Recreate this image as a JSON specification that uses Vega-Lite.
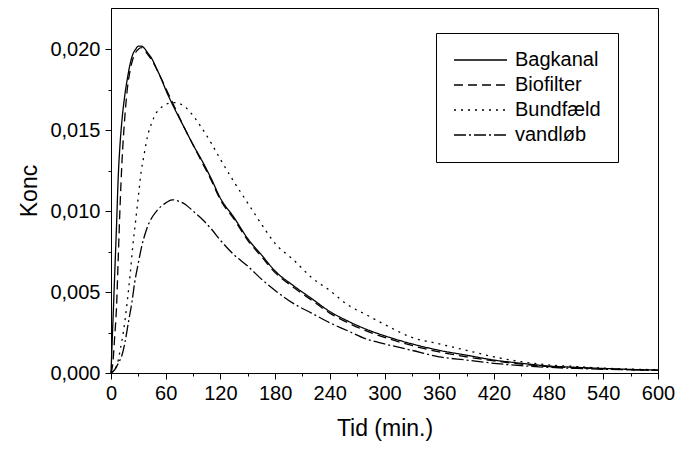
{
  "$schema": "https://vega.github.io/schema/vega-lite/v6.json",
  "autosize": {"type": "none"},
  "padding": {"left": 111, "top": 8, "right": 18, "bottom": 76},
  "width": 547,
  "height": 365,
  "background": "white",
  "config": {
    "view": {"stroke": "black", "strokeWidth": 1},
    "font": "Liberation Sans",
    "axis": {
      "domainColor": "black", "tickColor": "black", "labelColor": "black", "titleColor": "black",
      "labelFont": "Liberation Sans", "titleFont": "Liberation Sans",
      "labelFontSize": 20, "titleFontSize": 23, "titleFontWeight": "normal",
      "grid": false, "tickSize": 6, "domainWidth": 1, "tickWidth": 1,
      "labelFlush": false, "labelOverlap": false
    }
  },
  "data": {"values": [
    {"t":0,"v":0,"s":"Bagkanal"},{"t":2,"v":0.0030,"s":"Bagkanal"},{"t":4,"v":0.0060,"s":"Bagkanal"},{"t":6,"v":0.0090,"s":"Bagkanal"},{"t":8,"v":0.0122,"s":"Bagkanal"},{"t":10,"v":0.0142,"s":"Bagkanal"},{"t":12,"v":0.0156,"s":"Bagkanal"},{"t":15,"v":0.0171,"s":"Bagkanal"},{"t":18,"v":0.0182,"s":"Bagkanal"},{"t":21,"v":0.0191,"s":"Bagkanal"},{"t":24,"v":0.0197,"s":"Bagkanal"},{"t":27,"v":0.0200,"s":"Bagkanal"},{"t":30,"v":0.0202,"s":"Bagkanal"},{"t":33,"v":0.0202,"s":"Bagkanal"},{"t":36,"v":0.0201,"s":"Bagkanal"},{"t":40,"v":0.0198,"s":"Bagkanal"},{"t":45,"v":0.0194,"s":"Bagkanal"},{"t":50,"v":0.0188,"s":"Bagkanal"},{"t":55,"v":0.0182,"s":"Bagkanal"},{"t":60,"v":0.0175,"s":"Bagkanal"},{"t":70,"v":0.0163,"s":"Bagkanal"},{"t":80,"v":0.0152,"s":"Bagkanal"},{"t":90,"v":0.0141,"s":"Bagkanal"},{"t":100,"v":0.0131,"s":"Bagkanal"},{"t":110,"v":0.0120,"s":"Bagkanal"},{"t":120,"v":0.0108,"s":"Bagkanal"},{"t":135,"v":0.0096,"s":"Bagkanal"},{"t":150,"v":0.0083,"s":"Bagkanal"},{"t":165,"v":0.0073,"s":"Bagkanal"},{"t":180,"v":0.0063,"s":"Bagkanal"},{"t":200,"v":0.0054,"s":"Bagkanal"},{"t":220,"v":0.0046,"s":"Bagkanal"},{"t":240,"v":0.0038,"s":"Bagkanal"},{"t":260,"v":0.0032,"s":"Bagkanal"},{"t":280,"v":0.0027,"s":"Bagkanal"},{"t":300,"v":0.0023,"s":"Bagkanal"},{"t":330,"v":0.0018,"s":"Bagkanal"},{"t":360,"v":0.0014,"s":"Bagkanal"},{"t":390,"v":0.0011,"s":"Bagkanal"},{"t":420,"v":0.0008,"s":"Bagkanal"},{"t":450,"v":0.0006,"s":"Bagkanal"},{"t":480,"v":0.00043,"s":"Bagkanal"},{"t":510,"v":0.00035,"s":"Bagkanal"},{"t":540,"v":0.00028,"s":"Bagkanal"},{"t":570,"v":0.00022,"s":"Bagkanal"},{"t":600,"v":0.00018,"s":"Bagkanal"},
    {"t":0,"v":0,"s":"Biofilter"},{"t":2,"v":0.0006,"s":"Biofilter"},{"t":4,"v":0.0022,"s":"Biofilter"},{"t":6,"v":0.0040,"s":"Biofilter"},{"t":8,"v":0.0072,"s":"Biofilter"},{"t":10,"v":0.0104,"s":"Biofilter"},{"t":12,"v":0.0130,"s":"Biofilter"},{"t":15,"v":0.0157,"s":"Biofilter"},{"t":18,"v":0.0176,"s":"Biofilter"},{"t":21,"v":0.0187,"s":"Biofilter"},{"t":24,"v":0.0194,"s":"Biofilter"},{"t":27,"v":0.0198,"s":"Biofilter"},{"t":30,"v":0.0200,"s":"Biofilter"},{"t":33,"v":0.0201,"s":"Biofilter"},{"t":36,"v":0.0200,"s":"Biofilter"},{"t":40,"v":0.0197,"s":"Biofilter"},{"t":45,"v":0.0193,"s":"Biofilter"},{"t":50,"v":0.0188,"s":"Biofilter"},{"t":55,"v":0.0182,"s":"Biofilter"},{"t":60,"v":0.0176,"s":"Biofilter"},{"t":70,"v":0.0164,"s":"Biofilter"},{"t":80,"v":0.0152,"s":"Biofilter"},{"t":90,"v":0.0141,"s":"Biofilter"},{"t":100,"v":0.0130,"s":"Biofilter"},{"t":110,"v":0.0119,"s":"Biofilter"},{"t":120,"v":0.0107,"s":"Biofilter"},{"t":135,"v":0.0095,"s":"Biofilter"},{"t":150,"v":0.0082,"s":"Biofilter"},{"t":165,"v":0.0072,"s":"Biofilter"},{"t":180,"v":0.0062,"s":"Biofilter"},{"t":200,"v":0.0053,"s":"Biofilter"},{"t":220,"v":0.0045,"s":"Biofilter"},{"t":240,"v":0.0037,"s":"Biofilter"},{"t":260,"v":0.0031,"s":"Biofilter"},{"t":280,"v":0.0026,"s":"Biofilter"},{"t":300,"v":0.0022,"s":"Biofilter"},{"t":330,"v":0.0017,"s":"Biofilter"},{"t":360,"v":0.0013,"s":"Biofilter"},{"t":390,"v":0.0010,"s":"Biofilter"},{"t":420,"v":0.00075,"s":"Biofilter"},{"t":450,"v":0.00055,"s":"Biofilter"},{"t":480,"v":0.0004,"s":"Biofilter"},{"t":510,"v":0.00032,"s":"Biofilter"},{"t":540,"v":0.00026,"s":"Biofilter"},{"t":570,"v":0.0002,"s":"Biofilter"},{"t":600,"v":0.00016,"s":"Biofilter"},
    {"t":0,"v":0,"s":"Bundfæld"},{"t":5,"v":0.0003,"s":"Bundfæld"},{"t":8,"v":0.0008,"s":"Bundfæld"},{"t":10,"v":0.0014,"s":"Bundfæld"},{"t":12,"v":0.0020,"s":"Bundfæld"},{"t":15,"v":0.0031,"s":"Bundfæld"},{"t":18,"v":0.0045,"s":"Bundfæld"},{"t":21,"v":0.0061,"s":"Bundfæld"},{"t":24,"v":0.0079,"s":"Bundfæld"},{"t":27,"v":0.0094,"s":"Bundfæld"},{"t":30,"v":0.0109,"s":"Bundfæld"},{"t":33,"v":0.0124,"s":"Bundfæld"},{"t":36,"v":0.0134,"s":"Bundfæld"},{"t":40,"v":0.0146,"s":"Bundfæld"},{"t":45,"v":0.0155,"s":"Bundfæld"},{"t":50,"v":0.0161,"s":"Bundfæld"},{"t":55,"v":0.0164,"s":"Bundfæld"},{"t":60,"v":0.0166,"s":"Bundfæld"},{"t":70,"v":0.0167,"s":"Bundfæld"},{"t":80,"v":0.0165,"s":"Bundfæld"},{"t":90,"v":0.0159,"s":"Bundfæld"},{"t":100,"v":0.0151,"s":"Bundfæld"},{"t":110,"v":0.0142,"s":"Bundfæld"},{"t":120,"v":0.0132,"s":"Bundfæld"},{"t":135,"v":0.0118,"s":"Bundfæld"},{"t":150,"v":0.0105,"s":"Bundfæld"},{"t":165,"v":0.0092,"s":"Bundfæld"},{"t":180,"v":0.0080,"s":"Bundfæld"},{"t":200,"v":0.0070,"s":"Bundfæld"},{"t":220,"v":0.0059,"s":"Bundfæld"},{"t":240,"v":0.0051,"s":"Bundfæld"},{"t":260,"v":0.0042,"s":"Bundfæld"},{"t":280,"v":0.0036,"s":"Bundfæld"},{"t":300,"v":0.0030,"s":"Bundfæld"},{"t":330,"v":0.0022,"s":"Bundfæld"},{"t":360,"v":0.0018,"s":"Bundfæld"},{"t":390,"v":0.0014,"s":"Bundfæld"},{"t":420,"v":0.0010,"s":"Bundfæld"},{"t":450,"v":0.0007,"s":"Bundfæld"},{"t":480,"v":0.0005,"s":"Bundfæld"},{"t":510,"v":0.0004,"s":"Bundfæld"},{"t":540,"v":0.0003,"s":"Bundfæld"},{"t":570,"v":0.00024,"s":"Bundfæld"},{"t":600,"v":0.0002,"s":"Bundfæld"},
    {"t":0,"v":0,"s":"vandløb"},{"t":4,"v":0.0002,"s":"vandløb"},{"t":8,"v":0.0006,"s":"vandløb"},{"t":12,"v":0.0011,"s":"vandløb"},{"t":15,"v":0.0018,"s":"vandløb"},{"t":19,"v":0.0031,"s":"vandløb"},{"t":23,"v":0.0044,"s":"vandløb"},{"t":26,"v":0.0056,"s":"vandløb"},{"t":30,"v":0.0068,"s":"vandløb"},{"t":34,"v":0.0079,"s":"vandløb"},{"t":38,"v":0.0087,"s":"vandløb"},{"t":42,"v":0.0093,"s":"vandløb"},{"t":46,"v":0.0097,"s":"vandløb"},{"t":50,"v":0.0100,"s":"vandløb"},{"t":55,"v":0.0103,"s":"vandløb"},{"t":60,"v":0.0105,"s":"vandløb"},{"t":67,"v":0.0107,"s":"vandløb"},{"t":75,"v":0.0106,"s":"vandløb"},{"t":82,"v":0.0104,"s":"vandløb"},{"t":90,"v":0.0100,"s":"vandløb"},{"t":100,"v":0.0095,"s":"vandløb"},{"t":110,"v":0.0089,"s":"vandløb"},{"t":120,"v":0.0082,"s":"vandløb"},{"t":135,"v":0.0073,"s":"vandløb"},{"t":150,"v":0.0066,"s":"vandløb"},{"t":165,"v":0.0058,"s":"vandløb"},{"t":180,"v":0.0051,"s":"vandløb"},{"t":200,"v":0.0043,"s":"vandløb"},{"t":220,"v":0.0037,"s":"vandløb"},{"t":240,"v":0.0031,"s":"vandløb"},{"t":260,"v":0.0026,"s":"vandløb"},{"t":280,"v":0.0021,"s":"vandløb"},{"t":300,"v":0.0018,"s":"vandløb"},{"t":330,"v":0.0014,"s":"vandløb"},{"t":360,"v":0.0010,"s":"vandløb"},{"t":390,"v":0.0008,"s":"vandløb"},{"t":420,"v":0.0006,"s":"vandløb"},{"t":450,"v":0.00045,"s":"vandløb"},{"t":480,"v":0.00035,"s":"vandløb"},{"t":510,"v":0.00028,"s":"vandløb"},{"t":540,"v":0.00023,"s":"vandløb"},{"t":570,"v":0.0002,"s":"vandløb"},{"t":600,"v":0.00017,"s":"vandløb"}
  ]},
  "layer": [
    {
      "mark": {"type": "line", "color": "black", "strokeWidth": 1.3, "interpolate": "monotone"},
      "encoding": {
        "x": {"field": "t", "type": "quantitative",
              "scale": {"domain": [0, 600], "nice": false},
              "axis": {"values": [0,60,120,180,240,300,360,420,480,540,600], "title": "Tid (min.)", "labelPadding": 4, "titlePadding": 14}},
        "y": {"field": "v", "type": "quantitative",
              "scale": {"domain": [0, 0.02255], "nice": false},
              "axis": {"values": [0,0.005,0.01,0.015,0.02], "title": "Konc", "labelPadding": 5, "titlePadding": 8,
                       "labelExpr": "replace(format(datum.value, '.3f'), '.', ',')"}},
        "detail": {"field": "s"},
        "strokeDash": {"field": "s", "type": "nominal",
          "scale": {"domain": ["Bagkanal", "Biofilter", "Bundfæld", "vandløb"],
                    "range": [[1, 0], [9, 5], [2, 5], [12, 3, 2, 3]]},
          "legend": {"title": null, "orient": "none", "legendX": 325, "legendY": 25,
                     "strokeColor": "black", "padding": 17, "fillColor": "white",
                     "symbolType": "stroke", "symbolSize": 2809, "symbolStrokeColor": "black", "symbolStrokeWidth": 1.3,
                     "clipHeight": 20, "rowPadding": 5, "labelOffset": 7,
                     "labelFont": "Liberation Sans", "labelFontSize": 20, "labelColor": "black"}}
      }
    },
    {
      "mark": {"type": "point", "opacity": 0},
      "encoding": {
        "x": {"field": "t", "type": "quantitative",
              "axis": {"orient": "bottom", "values": [30,90,150,210,270,330,390,450,510,570], "labels": false, "title": null, "domain": false, "tickSize": 3}},
        "y": {"field": "v", "type": "quantitative",
              "axis": {"orient": "left", "values": [0.0025,0.0075,0.0125,0.0175], "labels": false, "title": null, "domain": false, "tickSize": 3}}
      }
    }
  ],
  "resolve": {"axis": {"x": "independent", "y": "independent"}}
}
